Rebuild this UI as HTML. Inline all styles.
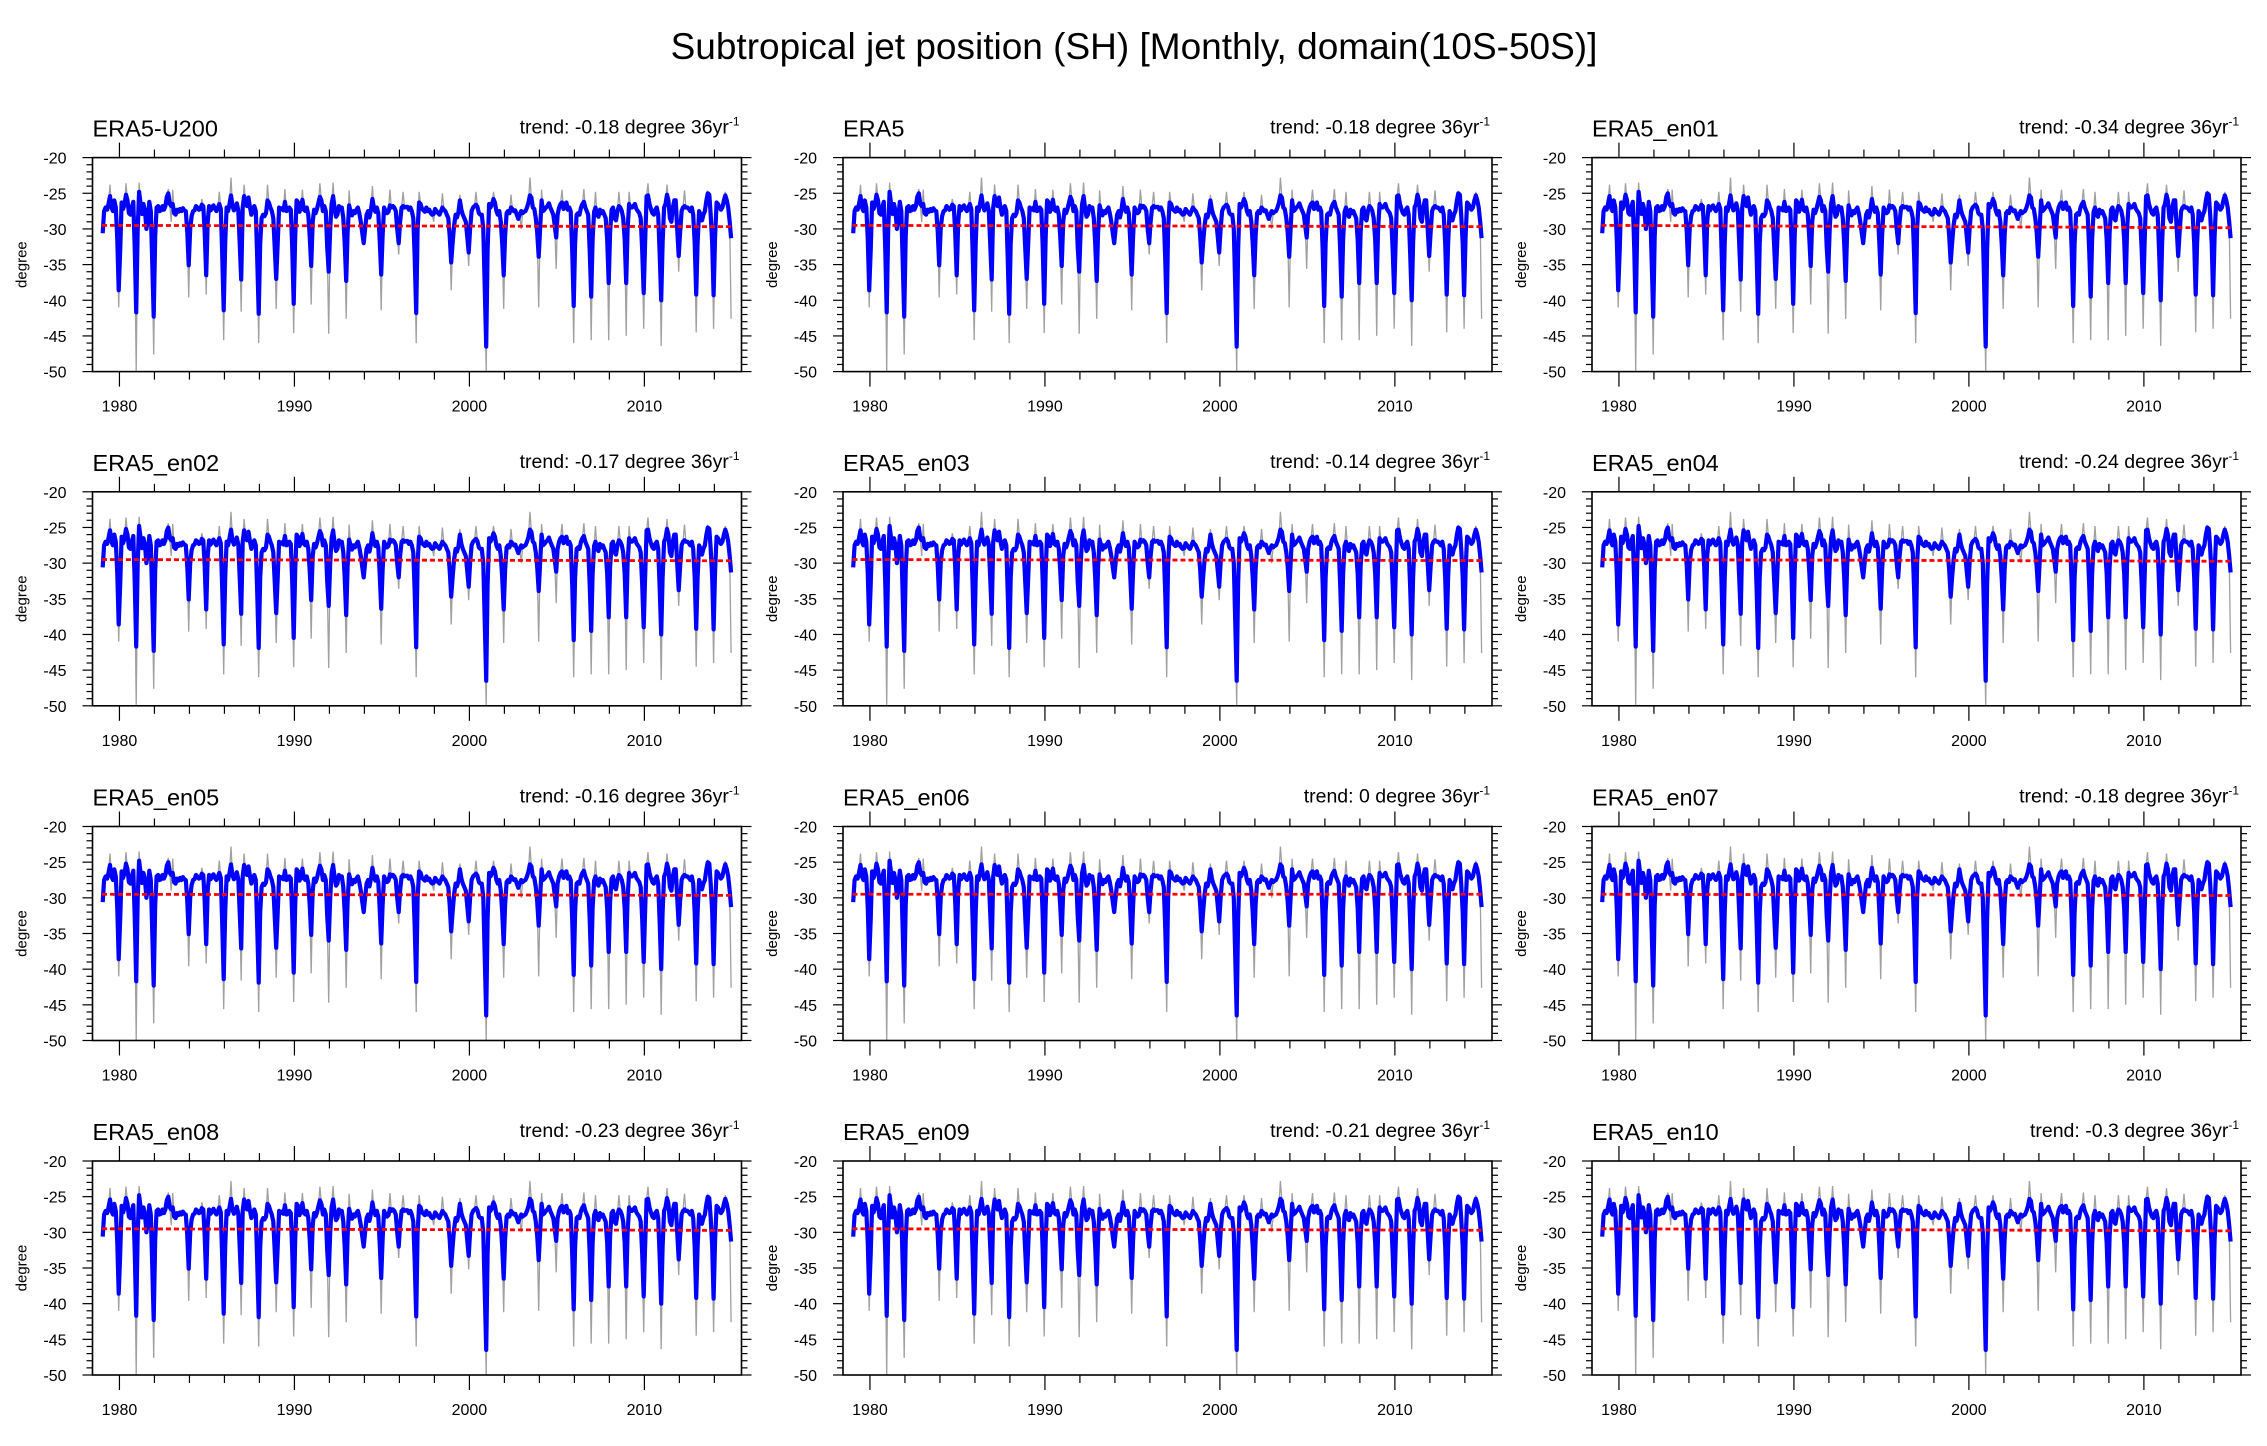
<!DOCTYPE html>
<html><head><meta charset="utf-8">
<style>
html,body{margin:0;padding:0;background:#fff;}
svg{display:block;font-family:"Liberation Sans",sans-serif;}
</style></head>
<body>
<svg id="fig" width="2267" height="1446" viewBox="0 0 2267 1446" xmlns="http://www.w3.org/2000/svg">
<rect width="2267" height="1446" fill="#fff"/>
<text x="1134" y="59" font-size="37" text-anchor="middle">Subtropical jet position (SH) [Monthly, domain(10S-50S)]</text>
</svg>
<script>
const panelNames = ["ERA5-U200","ERA5","ERA5_en01","ERA5_en02","ERA5_en03","ERA5_en04","ERA5_en05","ERA5_en06","ERA5_en07","ERA5_en08","ERA5_en09","ERA5_en10"];
const trends = [-0.18,-0.18,-0.34,-0.17,-0.14,-0.24,-0.16,0,-0.18,-0.23,-0.21,-0.3];
const yTicks = [-20,-25,-30,-35,-40,-45,-50];
const xTickYears = [1980,1990,2000,2010];
const startYear = 1979;
const blue = [
-30.6,-27.5,-27.0,-27.3,-26.5,-25.4,-27.0,-27.5,-26.0,-27.0,-31.5,-38.6,
-33.0,-26.3,-27.2,-26.5,-25.2,-26.0,-27.8,-28.0,-27.0,-26.2,-33.0,-41.7,
-30.0,-24.8,-26.5,-27.9,-26.5,-27.5,-30.0,-28.5,-26.2,-27.5,-35.0,-42.3,
-31.0,-27.0,-26.8,-27.5,-27.4,-26.8,-27.3,-26.8,-25.5,-25.0,-26.5,-26.8,
-26.5,-27.8,-28.0,-27.3,-27.6,-27.2,-27.5,-27.1,-27.4,-27.5,-30.5,-35.1,
-30.0,-28.2,-27.5,-27.4,-26.8,-27.0,-27.3,-27.2,-26.6,-26.8,-30.5,-36.5,
-29.0,-26.8,-27.4,-27.0,-26.7,-27.2,-27.5,-27.0,-26.5,-27.2,-33.5,-41.4,
-32.0,-27.0,-27.5,-26.5,-25.3,-26.8,-27.4,-27.1,-26.4,-27.4,-32.0,-37.1,
-27.0,-25.4,-26.5,-26.8,-25.6,-27.0,-28.0,-27.2,-26.8,-27.5,-34.0,-41.9,
-32.0,-28.5,-28.0,-28.2,-27.8,-26.0,-26.3,-27.0,-27.5,-28.5,-32.5,-37.0,
-32.0,-27.0,-27.3,-27.1,-27.4,-26.2,-27.5,-27.4,-27.0,-27.3,-32.5,-40.5,
-31.0,-26.0,-26.3,-27.6,-27.0,-25.9,-27.3,-27.5,-27.0,-28.0,-31.0,-35.2,
-29.0,-27.3,-27.8,-27.2,-26.3,-25.5,-26.0,-27.5,-26.8,-27.5,-32.5,-36.0,
-30.0,-26.5,-25.4,-27.0,-28.3,-28.0,-26.8,-27.2,-27.0,-28.5,-32.0,-37.3,
-30.5,-26.7,-27.5,-28.1,-27.5,-27.8,-27.3,-27.0,-27.8,-29.0,-30.5,-32.0,
-30.0,-28.0,-27.5,-28.4,-27.3,-25.8,-27.0,-27.6,-27.0,-27.8,-31.5,-36.4,
-31.0,-27.0,-27.5,-27.8,-27.6,-26.7,-27.0,-26.8,-27.0,-27.5,-30.0,-32.0,
-29.0,-27.0,-26.8,-27.0,-26.9,-26.9,-27.3,-27.0,-27.5,-28.5,-34.0,-41.8,
-30.0,-26.3,-26.5,-27.2,-27.4,-27.6,-27.0,-27.5,-27.3,-27.8,-28.0,-27.9,
-27.2,-27.5,-27.8,-28.0,-27.5,-27.0,-27.3,-27.5,-28.0,-28.5,-31.0,-34.7,
-32.0,-29.5,-28.0,-28.4,-27.6,-26.0,-27.3,-28.0,-28.5,-29.0,-31.0,-33.3,
-30.0,-27.5,-27.0,-26.8,-26.6,-26.9,-27.8,-28.0,-28.0,-30.0,-38.0,-46.5,
-33.0,-26.5,-27.0,-26.5,-25.8,-26.3,-27.5,-28.0,-27.5,-29.0,-32.0,-36.5,
-31.0,-27.8,-27.5,-27.8,-27.0,-27.2,-27.5,-27.4,-28.0,-28.6,-28.0,-27.5,
-27.8,-27.6,-27.5,-27.0,-26.3,-25.3,-25.6,-27.0,-27.2,-28.5,-30.5,-33.9,
-30.0,-26.0,-27.5,-27.3,-27.0,-26.8,-26.4,-27.0,-27.5,-28.0,-29.5,-31.2,
-28.0,-27.0,-26.5,-26.3,-27.2,-26.5,-26.3,-27.3,-27.0,-27.5,-33.0,-40.8,
-32.0,-28.0,-27.8,-28.0,-27.0,-26.5,-26.2,-27.0,-27.5,-28.0,-33.0,-39.5,
-31.5,-27.6,-27.0,-28.0,-28.3,-27.3,-27.8,-27.5,-28.0,-28.5,-31.5,-37.6,
-30.5,-27.3,-27.0,-28.5,-28.8,-27.5,-26.8,-27.0,-27.5,-28.5,-31.5,-37.6,
-30.0,-26.5,-27.0,-27.0,-26.8,-26.5,-27.2,-27.5,-27.8,-28.5,-33.0,-39.0,
-32.0,-25.4,-25.3,-26.5,-27.2,-27.8,-28.0,-27.3,-27.0,-28.0,-33.5,-40.0,
-32.0,-27.0,-26.5,-25.2,-26.0,-28.5,-29.0,-27.0,-26.0,-26.0,-30.0,-33.8,
-30.5,-27.5,-27.0,-26.8,-27.0,-27.0,-27.2,-27.5,-27.0,-28.0,-32.0,-39.2,
-32.0,-27.5,-28.0,-28.8,-28.0,-27.5,-26.0,-25.0,-25.2,-28.0,-32.0,-39.3,
-31.0,-26.3,-26.5,-27.0,-27.3,-27.0,-26.0,-25.3,-26.0,-27.0,-29.0,-31.3];
const grayDip = [-41,-50,-47.6,-29,-39.6,-39.2,-45.6,-41.6,-46,-41.2,-44.6,-40.6,-44.7,-42.6,-32.2,-41.4,-33.6,-46,-29,-38.6,-35.2,-50,-41.2,-30,-41,-35.6,-46,-45.6,-45.6,-45,-44,-46.4,-36,-44.5,-44,-42.6];
const grayPeak = [-23.8,-23.6,-23.5,-24.4,-24.5,-25.8,-24.8,-22.8,-23.8,-23.8,-24.4,-24.5,-23.6,-23.5,-24.6,-24.0,-24.5,-24.8,-24.8,-25.0,-25.2,-24.8,-24.8,-25.2,-22.8,-24.5,-24.5,-24.4,-24.8,-24.8,-24.8,-23.6,-23.8,-24.6,-24.8,-24.8];
const trendStart = -29.5;

const NS = "http://www.w3.org/2000/svg";
const svg = document.getElementById("fig");
function mk(tag, attrs, parent){
  const e = document.createElementNS(NS, tag);
  for (const k in attrs) e.setAttribute(k, attrs[k]);
  parent.appendChild(e);
  return e;
}
const colX = [92.5, 843, 1592];
const rowY = [157.6, 491.8, 826.5, 1161];
const W = 649, H = 214;
const XMIN = 1978.46, XMAX = 2015.55, YMIN = -50, YMAX = -20;

panelNames.forEach((name, p) => {
  const x0 = colX[p % 3], y0 = rowY[Math.floor(p / 3)];
  const sx = v => x0 + (v - XMIN) / (XMAX - XMIN) * W;
  const sy = v => y0 + (YMAX - v) / (YMAX - YMIN) * H;
  const g = mk("g", {}, svg);
  
  

  const cp = mk("clipPath", {id: "cp" + p}, g);
  mk("rect", {x: x0, y: y0, width: W, height: H}, cp);

  let gpts = [];
  for (let i = 0; i < blue.length; i++) {
    const yr = Math.floor(i / 12), m = i % 12;
    let v = blue[i];
    if (m === 11) v = grayDip[yr];
    let mx = 0, mv = -99;
    for (let k = 0; k < 11; k++) if (blue[yr*12+k] > mv) { mv = blue[yr*12+k]; mx = k; }
    if (m === mx) v = grayPeak[yr];
    gpts.push(sx(startYear + (i + 0.5) / 12).toFixed(1) + "," + sy(v).toFixed(1));
  }
  const gl = mk("polyline", {points: gpts.join(" "), fill: "none", stroke: "#a0a0a0", "stroke-width": 1.3, "clip-path": "url(#cp" + p + ")"}, g);
  
  

  const bpts = blue.map((v, i) => sx(startYear + (i + 0.5) / 12).toFixed(1) + "," + sy(v).toFixed(1));
  const bl = mk("polyline", {points: bpts.join(" "), fill: "none", stroke: "#0000ff", "stroke-width": 4.2, "stroke-linejoin": "round", "clip-path": "url(#cp" + p + ")"}, g);
  
  

  const tl = mk("line", {x1: sx(startYear), y1: sy(trendStart), x2: sx(startYear + 36), y2: sy(trendStart + trends[p]), stroke: "#ff0000", "stroke-width": 2.8, "stroke-dasharray": "5,3"}, g);
  
  

  const fr = mk("rect", {x: x0, y: y0, width: W, height: H, fill: "none", stroke: "#000", "stroke-width": 1.6}, g);
  
  

  for (let v = -50; v <= -20; v++) {
    const major = v % 5 === 0;
    const L = major ? 10 : 6;
    mk("line", {x1: x0 - L, y1: sy(v), x2: x0, y2: sy(v), stroke: "#000", "stroke-width": 1.2}, g);
    mk("line", {x1: x0 + W, y1: sy(v), x2: x0 + W + L, y2: sy(v), stroke: "#000", "stroke-width": 1.2}, g);
  }
  yTicks.forEach(v => {
    const t = mk("text", {x: x0 - 26, y: sy(v) + 6, "font-size": 16, "text-anchor": "end"}, g);
    t.textContent = v;
    
    
  });
  for (let yv = 1980; yv <= 2014; yv += 2) {
    const major = yv % 10 === 0;
    const L = major ? 15 : 8;
    mk("line", {x1: sx(yv), y1: y0 - L, x2: sx(yv), y2: y0, stroke: "#000", "stroke-width": 1.2}, g);
    mk("line", {x1: sx(yv), y1: y0 + H, x2: sx(yv), y2: y0 + H + L, stroke: "#000", "stroke-width": 1.2}, g);
  }
  xTickYears.forEach(yv => {
    const t = mk("text", {x: sx(yv), y: y0 + H + 40, "font-size": 16, "text-anchor": "middle"}, g);
    t.textContent = yv;
    
    
  });
  const yt = mk("text", {x: 0, y: 0, "font-size": 15, "text-anchor": "middle", transform: "translate(" + (x0 - 66) + "," + (y0 + H/2) + ") rotate(-90)"}, g);
  yt.textContent = "degree";
  
  
  const pt = mk("text", {x: x0, y: y0 - 21, "font-size": 23.5}, g);
  pt.textContent = name;
  
  
  const tt = mk("text", {x: x0 + W - 2, y: y0 - 24, "font-size": 19.5, "text-anchor": "end"}, g);
  
  
  const s1 = mk("tspan", {}, tt);
  s1.textContent = "trend: " + trends[p] + " degree 36yr";
  const s2 = mk("tspan", {"font-size": 12, dy: -8}, tt);
  s2.textContent = "-1";
});
</script>
</body></html>
